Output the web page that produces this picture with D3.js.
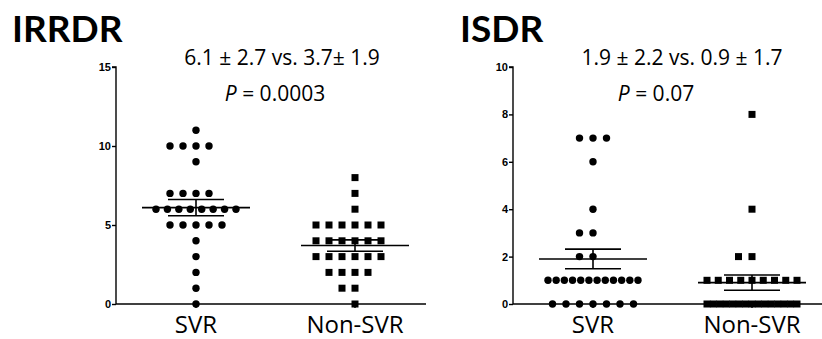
<!DOCTYPE html>
<html>
<head>
<meta charset="utf-8">
<script src="https://cdn.jsdelivr.net/npm/d3@7"></script>
<style>
  body { margin: 0; background: #fff; }
  .title { font-family: Lato, "Open Sans", sans-serif; font-weight: 700; }
  .note { font-family: "Open Sans", Lato, sans-serif; }
  .cat { font-family: "Open Sans", Lato, sans-serif; }
  .tick text { font-family: "Liberation Sans", Arial, sans-serif; font-weight: 700; }
</style>
</head>
<body>
<svg id="chart" width="822" height="339"></svg>
<script>
// Groups shown on the x axis
const groups = ["SVR", "Non-SVR"];

// IRRDR individual values
const irrdrSVR = [11, 10, 10, 10, 10, 9, 7, 7, 7, 7, 6, 6, 6, 6, 6, 6, 6, 6, 5, 5, 5, 5, 5, 4, 3, 2, 1, 0];
const irrdrNonSVR = [8, 7, 6, 5, 5, 5, 5, 5, 5, 4, 4, 4, 4, 4, 4, 3, 3, 3, 3, 3, 3, 2, 2, 2, 2, 1, 1, 0];

// ISDR individual values
const isdrSVR = [7, 7, 7, 6, 4, 3, 3, 2, 2, 1, 1, 1, 1, 1, 1, 1, 1, 1, 1, 1, 1, 0, 0, 0, 0, 0, 0, 0];
const isdrNonSVR = [8, 4, 2, 2, 1, 1, 1, 1, 1, 1, 1, 1, 1, 0, 0, 0, 0, 0, 0, 0, 0, 0, 0, 0, 0, 0, 0, 0];

// Mean and SD as printed on the figure
const irrdrMean = [6.1, 3.7];
const irrdrSD = [2.7, 1.9];
const isdrMean = [1.9, 0.9];
const isdrSD = [2.2, 1.7];

// Tick labels
const irrdrTicks = [0, 5, 10, 15];
const isdrTicks = [0, 2, 4, 6, 8, 10];

// Texts
const irrdrTexts = ["IRRDR", "6.1 \u00b1 2.7 vs. 3.7\u00b1 1.9", "0.0003"];
const isdrTexts = ["ISDR", "1.9 \u00b1 2.2 vs. 0.9 \u00b1 1.7", "0.07"];

const svg = d3.select("#chart");
svg.append("rect").attr("width", 822).attr("height", 339).attr("fill", "#fff");

const drawPanel = (opts) => {
    const g = svg.append("g").attr("transform", `translate(${opts.left},0)`);
    const top = 67, bottom = 304;

    const yScale = d3.scaleLinear().domain([0, opts.yMax]).range([bottom, top]);
    const xScale = d3.scalePoint().domain(groups).range([80, 239]);

    // y axis
    const leftAxis = d3.axisLeft(yScale)
        .tickValues(opts.ticks)
        .tickSize(4)
        .tickPadding(1)
        .tickFormat(d3.format("d"));
    const yAxis = g.append("g").call(leftAxis);
    yAxis.select(".domain").attr("d", `M-4,${top}H0V${bottom}`).attr("stroke-width", 1.4);
    yAxis.selectAll(".tick line").attr("stroke-width", 1.4);
    yAxis.selectAll(".tick text").attr("font-size", 11);

    // x axis
    g.append("line")
        .attr("x1", 0).attr("x2", 310)
        .attr("y1", bottom).attr("y2", bottom)
        .attr("stroke", "#000").attr("stroke-width", 1.6);
    g.selectAll(".xtick")
        .data(groups)
        .join("line")
        .attr("x1", d => xScale(d)).attr("x2", d => xScale(d))
        .attr("y1", bottom).attr("y2", bottom + 4)
        .attr("stroke", "#000").attr("stroke-width", 1.4);
    g.selectAll(".cat")
        .data(groups)
        .join("text")
        .attr("class", "cat")
        .attr("x", d => xScale(d))
        .attr("y", 333)
        .attr("text-anchor", "middle")
        .attr("font-size", 24)
        .text(d => d);

    // dots, spread sideways when values repeat
    opts.series.forEach((values, gi) => {
        const cx = xScale(groups[gi]);
        const counts = d3.rollup(values, v => v.length, d => d);
        const points = [];
        counts.forEach((n, val) => {
            let s = opts.spacing;
            let shift = Math.floor(n / 2);
            if ((n - 1) * s > opts.maxWidth) {
                s = opts.maxWidth / (n - 1);
                shift = (n - 1) / 2;
            }
            for (let i = 0; i < n; i++) {
                points.push({ x: cx + (i - shift) * s, v: val });
            }
        });
        if (gi === 0) {
            g.selectAll(null)
                .data(points)
                .join("circle")
                .attr("cx", d => d.x)
                .attr("cy", d => yScale(d.v))
                .attr("r", 3.7)
                .attr("fill", "#000");
        } else {
            g.selectAll(null)
                .data(points)
                .join("rect")
                .attr("x", d => d.x - 3.5)
                .attr("y", d => yScale(d.v) - 3.5)
                .attr("width", 7)
                .attr("height", 7)
                .attr("fill", "#000");
        }

        // mean with SEM
        const mean = opts.mean[gi];
        const sem = opts.sd[gi] / Math.sqrt(values.length);
        const lines = [
            { x1: cx - 54, x2: cx + 54, y1: yScale(mean), y2: yScale(mean) },
            { x1: cx - 28, x2: cx + 28, y1: yScale(mean + sem), y2: yScale(mean + sem) },
            { x1: cx - 28, x2: cx + 28, y1: yScale(mean - sem), y2: yScale(mean - sem) },
            { x1: cx, x2: cx, y1: yScale(mean + sem), y2: yScale(mean - sem) }
        ];
        g.selectAll(null)
            .data(lines)
            .join("line")
            .attr("x1", d => d.x1).attr("x2", d => d.x2)
            .attr("y1", d => d.y1).attr("y2", d => d.y2)
            .attr("stroke", "#000")
            .attr("stroke-width", 1.6);
    });

    // title and annotations
    svg.append("text")
        .attr("class", "title")
        .attr("x", opts.titleX)
        .attr("y", 42)
        .attr("font-size", 37)
        .text(opts.texts[0]);
    svg.append("text")
        .attr("class", "note")
        .attr("x", opts.noteX)
        .attr("y", 65)
        .attr("text-anchor", "middle")
        .attr("font-size", 21)
        .text(opts.texts[1]);
    const p = svg.append("text")
        .attr("class", "note")
        .attr("x", opts.pX)
        .attr("y", 101)
        .attr("text-anchor", "middle")
        .attr("font-size", 21);
    p.append("tspan").attr("font-style", "italic").text("P");
    p.append("tspan").text(" = " + opts.texts[2]);
};

drawPanel({
    left: 116, yMax: 15, ticks: irrdrTicks,
    series: [irrdrSVR, irrdrNonSVR], mean: irrdrMean, sd: irrdrSD,
    spacing: 13, maxWidth: 80,
    texts: irrdrTexts, titleX: 12, noteX: 282, pX: 275
});

drawPanel({
    left: 513, yMax: 10, ticks: isdrTicks,
    series: [isdrSVR, isdrNonSVR], mean: isdrMean, sd: isdrSD,
    spacing: 13.5, maxWidth: 90,
    texts: isdrTexts, titleX: 460, noteX: 682, pX: 656
});
</script>
</body>
</html>
